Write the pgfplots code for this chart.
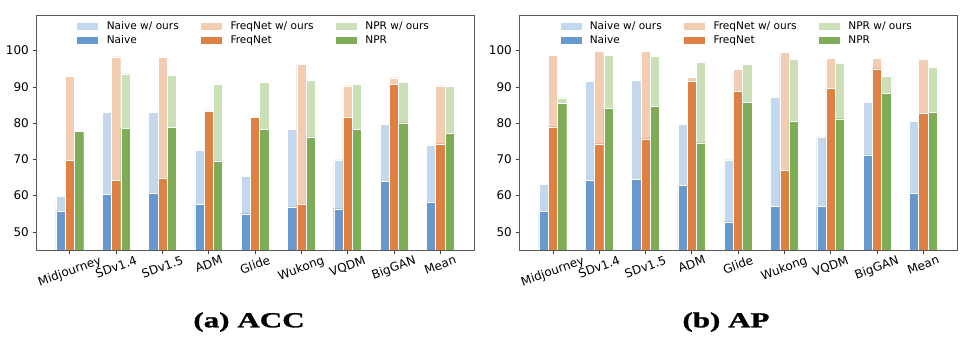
\documentclass[border=0pt]{standalone}
\usepackage{pgfplots}
\pgfplotsset{compat=1.18}
\usepackage{pgfplotstable}
\usepackage{graphicx}
\usepackage{fontspec}
\setmainfont{DejaVu Sans}
\newfontfamily\capfont[FakeStretch=1.45, UprightFont=*, BoldFont=* Bold, BoldFeatures={FakeBold=1.2}]{Liberation Serif}

\definecolor{cB}{RGB}{103,153,206}
\definecolor{cBl}{RGB}{196,216,237}
\definecolor{cO}{RGB}{224,129,68}
\definecolor{cOl}{RGB}{243,205,177}
\definecolor{cG}{RGB}{126,172,87}
\definecolor{cGl}{RGB}{203,224,185}

\pgfplotstableread{
x nb nbo fq fqo np npo
0 55.8 59.8 69.8 92.9 77.8 78.1
1 60.3 82.9 64.2 98.3 78.6 93.6
2 60.6 83.1 64.9 98.2 78.9 93.1
3 57.6 72.6 83.2 83.4 69.6 90.7
4 55.0 65.4 81.6 81.6 78.3 91.3
5 56.9 78.2 57.7 96.3 76.2 91.9
6 56.4 69.9 81.7 90.3 78.2 90.6
7 63.9 79.6 90.6 92.5 80.1 91.3
8 58.3 74.0 74.3 90.3 77.2 90.1
}\accdata

\pgfplotstableread{
x nb nbo fq fqo np npo
0 55.8 63.1 79.0 98.7 85.4 87.0
1 64.2 91.6 74.3 99.9 84.0 98.6
2 64.4 91.7 75.7 99.9 84.7 98.4
3 62.8 79.7 91.5 92.7 74.6 96.9
4 52.8 69.9 88.8 94.8 85.7 96.2
5 57.1 87.2 67.0 99.5 80.5 97.7
6 57.0 76.2 89.6 98.0 81.2 96.4
7 71.2 85.8 95.0 98.0 88.2 92.8
8 60.6 80.6 82.7 97.7 83.0 95.5
}\apdata

\pgfplotsset{
  mybar/.style={ybar, bar width=0.2, bar shift=#1, draw=white, line width=0.3bp,
    legend image code/.code={\fill[##1] (0bp,-3.7bp) rectangle (22bp,3.7bp); \path (30bp,0bp);}},
  mychart/.style={
    scale only axis, width=438bp, height=235bp,
    anchor=south west,
    xmin=-0.73, xmax=8.73, ymin=45, ymax=109.8,
    axis line style={black!65, line width=0.6bp},
    tick style={black!75, line width=0.6bp},
    tick align=outside, tick pos=left, major tick length=3.5bp,
    ytick={50,60,70,80,90,100},
    xtick={0,...,8},
    xticklabels={\rotatebox{20}{Midjourney},\rotatebox{20}{SDv1.4},\rotatebox{20}{SDv1.5},\rotatebox{20}{ADM},\rotatebox{20}{Glide},\rotatebox{20}{Wukong},\rotatebox{20}{VQDM},\rotatebox{20}{BigGAN},\rotatebox{20}{Mean}},
    /pgf/number format/assume math mode=true,
    yticklabel style={font=\fontsize{12}{14}\selectfont, inner sep=0pt, xshift=-3.5bp},
    xticklabel style={font=\fontsize{12}{14}\selectfont, inner sep=0pt, anchor=north, yshift=-1.5bp},
    legend columns=3,
    legend style={draw=none, fill=none, font=\fontsize{10.6}{12}\selectfont,
      at={(0.092,0.974)}, anchor=north west, inner sep=0pt,
      nodes={inner sep=0pt}, column sep=0pt,
      row sep=4.5bp,
      /tikz/every even column/.append style={column sep=21.5bp}},
    legend cell align=left,
  }
}

\begin{document}
\begin{tikzpicture}
\useasboundingbox (0,0) rectangle (974bp,343bp);
\begin{axis}[mychart, at={(36bp,93bp)}]
\addplot[mybar=-0.2, fill=cBl] table[x=x,y=nbo] {\accdata};
\addplot[mybar=0, fill=cOl] table[x=x,y=fqo] {\accdata};
\addplot[mybar=0.2, fill=cGl] table[x=x,y=npo] {\accdata};
\addplot[mybar=-0.2, fill=cB] table[x=x,y=nb] {\accdata};
\addplot[mybar=0, fill=cO] table[x=x,y=fq] {\accdata};
\addplot[mybar=0.2, fill=cG] table[x=x,y=np] {\accdata};
\legend{Naive w/ ours, FreqNet w/ ours, NPR w/ ours, Naive, FreqNet, NPR}
\end{axis}
\begin{axis}[mychart, at={(519bp,93bp)}]
\addplot[mybar=-0.2, fill=cBl] table[x=x,y=nbo] {\apdata};
\addplot[mybar=0, fill=cOl] table[x=x,y=fqo] {\apdata};
\addplot[mybar=0.2, fill=cGl] table[x=x,y=npo] {\apdata};
\addplot[mybar=-0.2, fill=cB] table[x=x,y=nb] {\apdata};
\addplot[mybar=0, fill=cO] table[x=x,y=fq] {\apdata};
\addplot[mybar=0.2, fill=cG] table[x=x,y=np] {\apdata};
\legend{Naive w/ ours, FreqNet w/ ours, NPR w/ ours, Naive, FreqNet, NPR}
\end{axis}
\node[anchor=base, font=\capfont\bfseries\fontsize{21.5}{24}\selectfont] at (249bp,15.7bp) {(a) ACC};
\node[anchor=base, font=\capfont\bfseries\fontsize{21.5}{24}\selectfont] at (726bp,15.7bp) {(b) AP};
\end{tikzpicture}
\end{document}
